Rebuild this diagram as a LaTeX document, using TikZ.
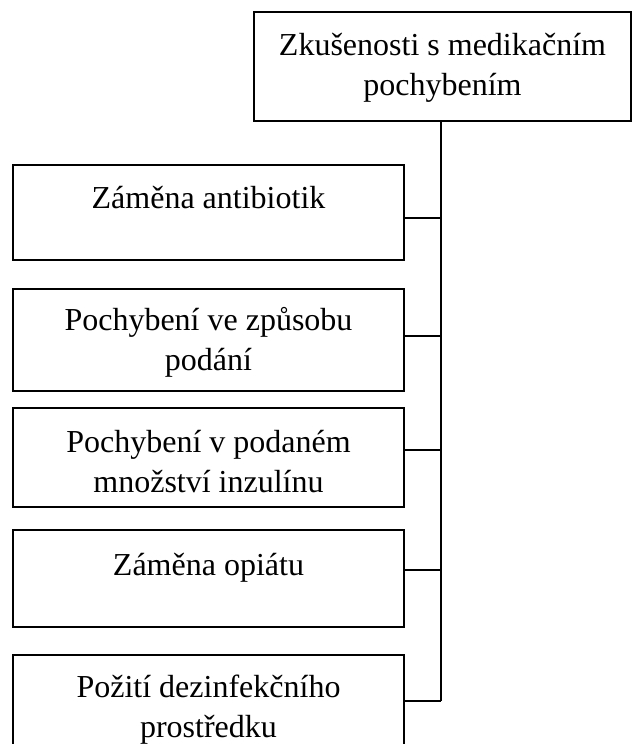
\documentclass[tikz,border=0pt]{standalone}
\usepackage{fontspec}
\setmainfont{Liberation Serif}
\usetikzlibrary{calc}
\begin{document}
\begin{tikzpicture}[x=1pt,y=-1pt,
  box/.style={draw=black,line width=1.6pt,rectangle,inner sep=0pt},
  txt/.style={anchor=north,inner sep=0pt,align=center,
    font=\fontsize{32}{40}\selectfont},
  link/.style={draw=black,line width=1.6pt}]
  \useasboundingbox (0,0) rectangle (633,744);
  \clip (0,0) rectangle (633,744);

  % header box and the five category boxes
  \node[box,minimum width=377pt,minimum height=109pt] (top) at (442.5,66.5) {};
  \node[box,minimum width=391pt,minimum height=95pt]  (b1) at (208.5,212.5) {};
  \node[box,minimum width=391pt,minimum height=102pt] (b2) at (208.5,340) {};
  \node[box,minimum width=391pt,minimum height=99pt]  (b3) at (208.5,457.5) {};
  \node[box,minimum width=391pt,minimum height=97pt]  (b4) at (208.5,578.5) {};
  \node[box,minimum width=391pt,minimum height=105pt] (b5) at (208.5,707.5) {};

  % captions
  \node[txt] (t0) at (442.5,27) {\strut Zkušenosti s medikačním\\pochybením};
  \node[txt] (t1) at (208.5,180) {\strut Záměna antibiotik};
  \node[txt] (t2) at (208.5,302) {\strut Pochybení ve způsobu\\podání};
  \node[txt] (t3) at (208.5,424) {\strut Pochybení v podaném\\množství inzulínu};
  \node[txt] (t4) at (208.5,547) {\strut Záměna opiátu};
  \node[txt] (t5) at (208.5,669) {\strut Požití dezinfekčního\\prostředku};

  % junctions on the vertical spine
  \coordinate (j1) at (441,218);
  \coordinate (j2) at (441,336);
  \coordinate (j3) at (441,450);
  \coordinate (j4) at (441,570);
  \coordinate (j5) at (441,701);

  \draw[link] (j1 |- top.south) -- (j5);
  \draw[link] (j1) -- (j1 -| b1.east);
  \draw[link] (j2) -- (j2 -| b2.east);
  \draw[link] (j3) -- (j3 -| b3.east);
  \draw[link] (j4) -- (j4 -| b4.east);
  \draw[link] (j5) -- (j5 -| b5.east);
\end{tikzpicture}
\end{document}
